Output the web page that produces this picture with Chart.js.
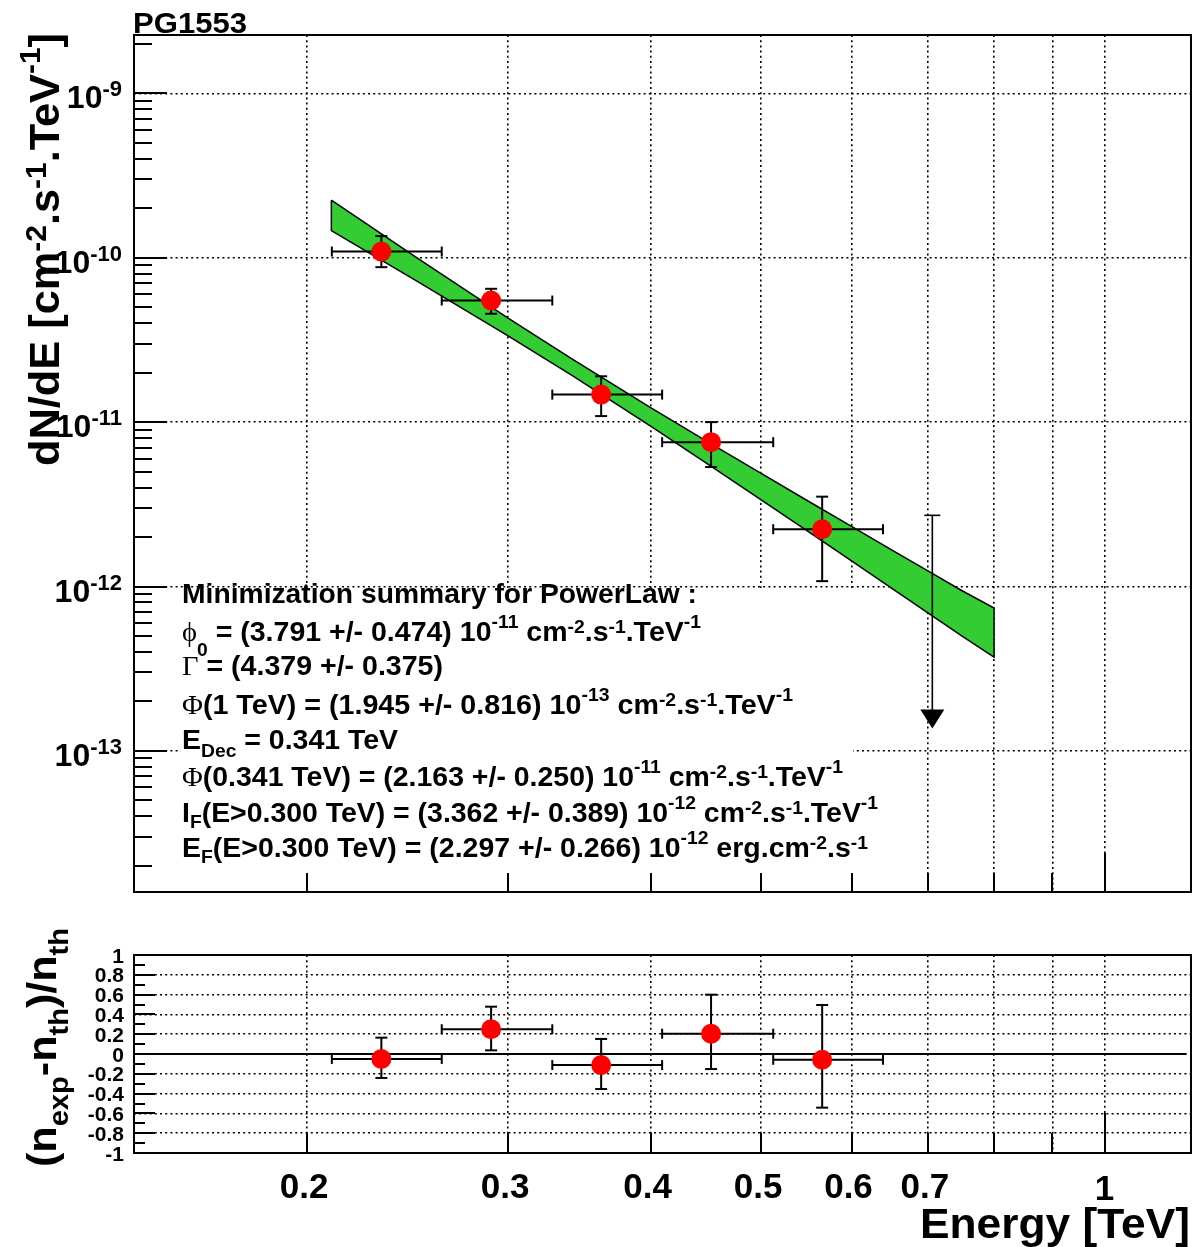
<!DOCTYPE html>
<html>
<head>
<meta charset="utf-8">
<script src="https://cdn.jsdelivr.net/npm/chart.js@4.4.0/dist/chart.umd.min.js"></script>
<style>
html,body{margin:0;padding:0;background:#fff;width:1194px;height:1247px;overflow:hidden}
#top{position:absolute;left:0;top:0}
#bot{position:absolute;left:0;top:920px}
</style>
</head>
<body>
<canvas id="top" width="1194" height="920"></canvas>
<canvas id="bot" width="1194" height="327"></canvas>
<script>
// ---------------- data ----------------
const energies      = [0.2323, 0.2899, 0.3620, 0.4519, 0.5655];       // TeV
const energyLow     = [0.2102, 0.2624, 0.3280, 0.4094, 0.5123];
const energyHigh    = [0.2624, 0.3280, 0.4094, 0.5123, 0.6394];
const flux          = [1.09e-10, 5.49e-11, 1.47e-11, 7.55e-12, 2.23e-12];
const fluxHigh      = [1.354e-10, 6.47e-11, 1.90e-11, 1.00e-11, 3.52e-12];
const fluxLow       = [8.76e-11, 4.56e-11, 1.088e-11, 5.33e-12, 1.078e-12];

const ulEnergy      = [0.7063];
const ulFlux        = [2.71e-12];
const ulArrowTip    = [1.37e-13];

const bandEnergy    = [0.21, 0.25, 0.30, 0.341, 0.40, 0.45, 0.50, 0.55, 0.60, 0.65, 0.70, 0.75, 0.80];
const bandUpper     = [2.24e-10, 9.92e-11, 4.29e-11, 2.43e-11, 1.224e-11, 7.50e-12, 4.87e-12, 3.30e-12, 2.32e-12, 1.678e-12, 1.244e-12, 9.42e-13, 7.40e-13];
const bandLower     = [1.46e-10, 7.15e-11, 3.35e-11, 1.93e-11, 9.44e-12, 5.50e-12, 3.37e-12, 2.154e-12, 1.431e-12, 9.81e-13, 6.92e-13, 4.99e-13, 3.72e-13];

const residual      = [-0.050, 0.250, -0.112, 0.205, -0.058];
const residualHigh  = [0.165, 0.478, 0.152, 0.599, 0.495];
const residualLow   = [-0.242, 0.037, -0.354, -0.152, -0.542];
const zeroLineE     = [0.141, 1.18];
const zeroLineV     = [0, 0];

// axis ranges and ticks
const X_MIN = 0.1410, X_MAX = 1.1905;
const Y_MIN = 1.386e-14, Y_MAX = 2.263e-9;
const R_MIN = -1, R_MAX = 1;
const xTickValues = [0.2, 0.3, 0.4, 0.5, 0.6, 0.7, 0.8, 0.9, 1];
const xTickLabels = ['0.2', '0.3', '0.4', '0.5', '0.6', '0.7', '', '', '1'];
const yTopTickValues = [1e-13, 1e-12, 1e-11, 1e-10, 1e-9];
const yTopTickExps   = ['-13', '-12', '-11', '-10', '-9'];
const yResTickValues = [-1, -0.8, -0.6, -0.4, -0.2, 0, 0.2, 0.4, 0.6, 0.8, 1];
const yResTickLabels = ['-1', '-0.8', '-0.6', '-0.4', '-0.2', '0', '0.2', '0.4', '0.6', '0.8', '1'];
const yResGridValues = [-0.8, -0.6, -0.4, -0.2, 0.2, 0.4, 0.6, 0.8];

const titleText = 'PG1553';
const summaryLines = [
  [['Minimization summary for PowerLaw :', 'n']],
  [['\u03D5', 'sym'], ['0', 'sub', 15], [' = (3.791 +/- 0.474) 10', 'n'], ['-11', 'sup'], [' cm', 'n'], ['-2', 'supl'], ['.s', 'n'], ['-1', 'supl'], ['.TeV', 'n'], ['-1', 'sup']],
  [['\u0393', 'sym'], [' = (4.379 +/- 0.375)', 'n']],
  [['\u03A6', 'sym'], ['(1 TeV) = (1.945 +/- 0.816) 10', 'n'], ['-13', 'sup'], [' cm', 'n'], ['-2', 'supl'], ['.s', 'n'], ['-1', 'supl'], ['.TeV', 'n'], ['-1', 'sup']],
  [['E', 'n'], ['Dec', 'sub', 8], [' = 0.341 TeV', 'n']],
  [['\u03A6', 'sym'], ['(0.341 TeV) = (2.163 +/- 0.250) 10', 'n'], ['-11', 'sup'], [' cm', 'n'], ['-2', 'supl'], ['.s', 'n'], ['-1', 'supl'], ['.TeV', 'n'], ['-1', 'sup']],
  [['I', 'n'], ['F', 'sub', 6], ['(E>0.300 TeV) = (3.362 +/- 0.389) 10', 'n'], ['-12', 'sup'], [' cm', 'n'], ['-2', 'supl'], ['.s', 'n'], ['-1', 'supl'], ['.TeV', 'n'], ['-1', 'sup']],
  [['E', 'n'], ['F', 'sub', 6], ['(E>0.300 TeV) = (2.297 +/- 0.266) 10', 'n'], ['-12', 'sup'], [' erg.cm', 'n'], ['-2', 'supl'], ['.s', 'n'], ['-1', 'supl']]
];
const summaryBaselines = [603, 641, 675, 714, 749, 786, 822, 857];
const summaryRightEdges = [697, 701, 443, 793, 398, 843, 878, 868];
const yTopLabel = [['dN/dE [cm', 'n'], ['-2', 'supl'], ['.s', 'n'], ['-1', 'supl'], ['.TeV', 'n'], ['-1', 'sup'], [']', 'n']];
const yResLabel = [['(n', 'n'], ['exp', 'sub', 12], ['-n', 'n'], ['th', 'sub', 12], [')/n', 'n'], ['th', 'sub', 12]];
const xLabel = [['Energy [TeV]', 'n']];

// ---------------- helpers ----------------
const SANS = '"Liberation Sans", Arial, Helvetica, sans-serif';
const SERIF = '"Liberation Serif", "DejaVu Serif", serif';
function segFont(k, S) {
  if (k === 'sym') return S + 'px ' + SERIF;
  if (k === 'sup' || k === 'supl' || k === 'sub') return 'bold ' + Math.round(S * 0.68) + 'px ' + SANS;
  return 'bold ' + S + 'px ' + SANS;
}
function richWidth(ctx, segs, S) {
  let w = 0;
  for (const s of segs) { ctx.font = segFont(s[1], S); w += ctx.measureText(s[0]).width; }
  return w;
}
function drawRich(ctx, segs, x, y, S, o) {
  o = o || {};
  const nat = richWidth(ctx, segs, S);
  const sx = o.width ? o.width / nat : 1;
  const tot = nat * sx;
  ctx.save();
  ctx.translate(x, y);
  if (o.rotate) ctx.rotate(-Math.PI / 2);
  const start = o.align === 'right' ? -tot : (o.align === 'center' ? -tot / 2 : 0);
  ctx.translate(start, 0);
  ctx.scale(sx, 1);
  ctx.textAlign = 'left';
  ctx.textBaseline = 'alphabetic';
  ctx.fillStyle = '#000';
  let cx = 0;
  for (const s of segs) {
    const k = s[1];
    ctx.font = segFont(k, S);
    let dy = 0;
    if (k === 'sup') dy = -(s[2] !== undefined ? s[2] : S * 0.45);
    else if (k === 'supl') dy = -S * 0.30;
    else if (k === 'sub') dy = (s[2] !== undefined ? s[2] : S * 0.3);
    ctx.fillText(s[0], cx, dy);
    cx += ctx.measureText(s[0]).width;
  }
  ctx.restore();
}
function line(ctx, x1, y1, x2, y2) { ctx.beginPath(); ctx.moveTo(x1, y1); ctx.lineTo(x2, y2); ctx.stroke(); }

function drawErrorBars(chart, xs, xl, xh, ys, yl, yh) {
  const ctx = chart.ctx, sx = chart.scales.x, sy = chart.scales.y;
  ctx.save();
  ctx.strokeStyle = '#000';
  ctx.lineWidth = 2;
  for (let i = 0; i < xs.length; i++) {
    const px = sx.getPixelForValue(xs[i]), py = sy.getPixelForValue(ys[i]);
    const pl = sx.getPixelForValue(xl[i]), ph = sx.getPixelForValue(xh[i]);
    const qt = sy.getPixelForValue(yh[i]), qb = sy.getPixelForValue(yl[i]);
    line(ctx, pl, py, ph, py);
    line(ctx, pl, py - 5, pl, py + 5);
    line(ctx, ph, py - 5, ph, py + 5);
    line(ctx, px, qt, px, qb);
    line(ctx, px - 6, qt, px + 6, qt);
    line(ctx, px - 6, qb, px + 6, qb);
  }
  ctx.restore();
}

function drawXTicks(chart, minorLen, majorLen) {
  const ctx = chart.ctx, ca = chart.chartArea, sx = chart.scales.x;
  ctx.save(); ctx.strokeStyle = '#000'; ctx.lineWidth = 2;
  xTickValues.forEach(v => {
    const p = Math.round(sx.getPixelForValue(v));
    line(ctx, p, ca.bottom, p, ca.bottom - (v === 1 ? majorLen : minorLen));
  });
  ctx.restore();
}
function drawFrame(chart) {
  const ctx = chart.ctx, ca = chart.chartArea;
  ctx.save(); ctx.strokeStyle = '#000'; ctx.lineWidth = 2;
  ctx.strokeRect(ca.left, ca.top, ca.right - ca.left, ca.bottom - ca.top);
  ctx.restore();
}

const gridCommon = { color: '#000', lineWidth: 1.6, drawTicks: false };
const borderCommon = { display: false, dash: [2, 3.2] };

// ---------------- top panel ----------------
const topPlugin = {
  id: 'topDeco',
  beforeDatasetsDraw(chart) {
    const ctx = chart.ctx;
    ctx.save();
    ctx.fillStyle = '#fff';
    ctx.fillRect(181, 588, 853 - 181, 873 - 588);
    ctx.restore();
    summaryLines.forEach((segs, i) => {
      drawRich(ctx, segs, 182, summaryBaselines[i], 28, { width: summaryRightEdges[i] - 182 });
    });
  },
  afterDatasetDraw(chart, args) {
    if (args.index !== 1) return;
    drawErrorBars(chart, energies, energyLow, energyHigh, flux, fluxLow, fluxHigh);
    const ctx = chart.ctx, sx = chart.scales.x, sy = chart.scales.y;
    ctx.save();
    ctx.strokeStyle = '#000'; ctx.fillStyle = '#000'; ctx.lineWidth = 1.6;
    for (let i = 0; i < ulEnergy.length; i++) {
      const px = sx.getPixelForValue(ulEnergy[i]);
      const top = sy.getPixelForValue(ulFlux[i]);
      const tip = sy.getPixelForValue(ulArrowTip[i]);
      line(ctx, px - 8, top, px + 8, top);
      line(ctx, px, top, px, tip - 18);
      ctx.beginPath();
      ctx.moveTo(px, tip); ctx.lineTo(px - 12, tip - 19); ctx.lineTo(px + 12, tip - 19); ctx.closePath();
      ctx.fill();
    }
    ctx.restore();
  },
  afterDraw(chart) {
    const ctx = chart.ctx, ca = chart.chartArea, sy = chart.scales.y;
    drawFrame(chart);
    // left y ticks (log)
    ctx.save(); ctx.strokeStyle = '#000'; ctx.lineWidth = 2;
    for (let d = -14; d <= -9; d++) {
      for (let m = 1; m <= 9; m++) {
        const v = m * Math.pow(10, d);
        if (v < Y_MIN || v > Y_MAX) continue;
        const p = Math.round(sy.getPixelForValue(v));
        line(ctx, ca.left, p, ca.left + (m === 1 ? 33 : 18), p);
      }
    }
    ctx.restore();
    drawXTicks(chart, 19, 39);
    // y tick labels
    yTopTickValues.forEach((v, i) => {
      const p = sy.getPixelForValue(v);
      drawRich(ctx, [['10', 'n'], [yTopTickExps[i], 'sup', 12]], 122, p + 15, 32, { align: 'right' });
    });
    // title
    drawRich(ctx, [[titleText, 'n']], 133, 33, 30, { width: 114 });
    // y axis title
    drawRich(ctx, yTopLabel, 59, 466, 42, { rotate: true, width: 433 });
  }
};

new Chart(document.getElementById('top'), {
  type: 'scatter',
  data: {
    datasets: [
      {
        label: 'flux points',
        data: energies.map((e, i) => ({ x: e, y: flux[i] })),
        pointRadius: 10, pointHoverRadius: 10,
        pointBackgroundColor: '#ff0000', pointBorderColor: '#ff0000', pointBorderWidth: 0,
        showLine: false
      },
      {
        label: 'power-law butterfly',
        data: bandEnergy.map((e, i) => ({ x: e, y: bandUpper[i] }))
          .concat(bandEnergy.map((e, i) => ({ x: e, y: bandLower[i] })).reverse())
          .concat([{ x: bandEnergy[0], y: bandUpper[0] }]),
        showLine: true, fill: 'shape', tension: 0,
        backgroundColor: '#33cc33', borderColor: '#000', borderWidth: 1.5,
        pointRadius: 0, pointHoverRadius: 0
      }
    ]
  },
  options: {
    responsive: false, animation: false, devicePixelRatio: 1,
    events: [],
    layout: { autoPadding: false, padding: { left: 134, top: 35, right: 3, bottom: 920 - 892 } },
    plugins: { legend: { display: false }, tooltip: { enabled: false }, title: { display: false } },
    scales: {
      x: {
        type: 'logarithmic', min: X_MIN, max: X_MAX,
        afterBuildTicks: s => { s.ticks = xTickValues.map(v => ({ value: v })); },
        afterFit: s => { s.height = 0; },
        ticks: { display: false }, grid: gridCommon, border: borderCommon
      },
      y: {
        type: 'logarithmic', min: Y_MIN, max: Y_MAX,
        afterBuildTicks: s => { s.ticks = yTopTickValues.map(v => ({ value: v })); },
        afterFit: s => { s.width = 0; },
        ticks: { display: false }, grid: gridCommon, border: borderCommon
      }
    }
  },
  plugins: [topPlugin]
});

// ---------------- residual panel ----------------
const botPlugin = {
  id: 'botDeco',
  afterDatasetDraw(chart, args) {
    if (args.index !== 1) return;
    drawErrorBars(chart, energies, energyLow, energyHigh, residual, residualLow, residualHigh);
  },
  afterDraw(chart) {
    const ctx = chart.ctx, ca = chart.chartArea, sx = chart.scales.x, sy = chart.scales.y;
    drawFrame(chart);
    ctx.save(); ctx.strokeStyle = '#000'; ctx.lineWidth = 2;
    for (let k = -10; k <= 10; k++) {
      const v = k / 10;
      const p = Math.round(sy.getPixelForValue(v));
      line(ctx, ca.left, p, ca.left + (k % 2 === 0 ? 21 : 11), p);
    }
    ctx.restore();
    drawXTicks(chart, 20, 40);
    // y labels
    yResTickValues.forEach((v, i) => {
      drawRich(ctx, [[yResTickLabels[i], 'n']], 124, sy.getPixelForValue(v) + 7.5, 21, { align: 'right' });
    });
    // x labels
    xTickValues.forEach((v, i) => {
      if (!xTickLabels[i]) return;
      const p = sx.getPixelForValue(v);
      drawRich(ctx, [[xTickLabels[i], 'n']], p - (v === 1 ? 0 : 3), 1198 - 920 + (v === 1 ? 2 : 0), 35, { align: 'center' });
    });
    drawRich(ctx, xLabel, 1190, 1238 - 920, 42, { align: 'right', width: 270 });
    drawRich(ctx, yResLabel, 56, 1167 - 920, 40, { rotate: true, width: 239 });
  }
};

new Chart(document.getElementById('bot'), {
  type: 'scatter',
  data: {
    datasets: [
      {
        label: 'residuals',
        data: energies.map((e, i) => ({ x: e, y: residual[i] })),
        pointRadius: 10, pointHoverRadius: 10,
        pointBackgroundColor: '#ff0000', pointBorderColor: '#ff0000', pointBorderWidth: 0,
        showLine: false
      },
      {
        label: 'zero',
        data: zeroLineE.map((e, i) => ({ x: e, y: zeroLineV[i] })),
        showLine: true, borderColor: '#000', borderWidth: 2, pointRadius: 0, pointHoverRadius: 0, fill: false
      }
    ]
  },
  options: {
    responsive: false, animation: false, devicePixelRatio: 1,
    events: [],
    layout: { autoPadding: false, padding: { left: 134, top: 35, right: 3, bottom: 327 - 233 } },
    plugins: { legend: { display: false }, tooltip: { enabled: false }, title: { display: false } },
    scales: {
      x: {
        type: 'logarithmic', min: X_MIN, max: X_MAX,
        afterBuildTicks: s => { s.ticks = xTickValues.map(v => ({ value: v })); },
        afterFit: s => { s.height = 0; },
        ticks: { display: false }, grid: gridCommon, border: borderCommon
      },
      y: {
        type: 'linear', min: R_MIN, max: R_MAX,
        afterBuildTicks: s => { s.ticks = yResGridValues.map(v => ({ value: v })); },
        afterFit: s => { s.width = 0; },
        ticks: { display: false }, grid: gridCommon, border: borderCommon
      }
    }
  },
  plugins: [botPlugin]
});
</script>
</body>
</html>
